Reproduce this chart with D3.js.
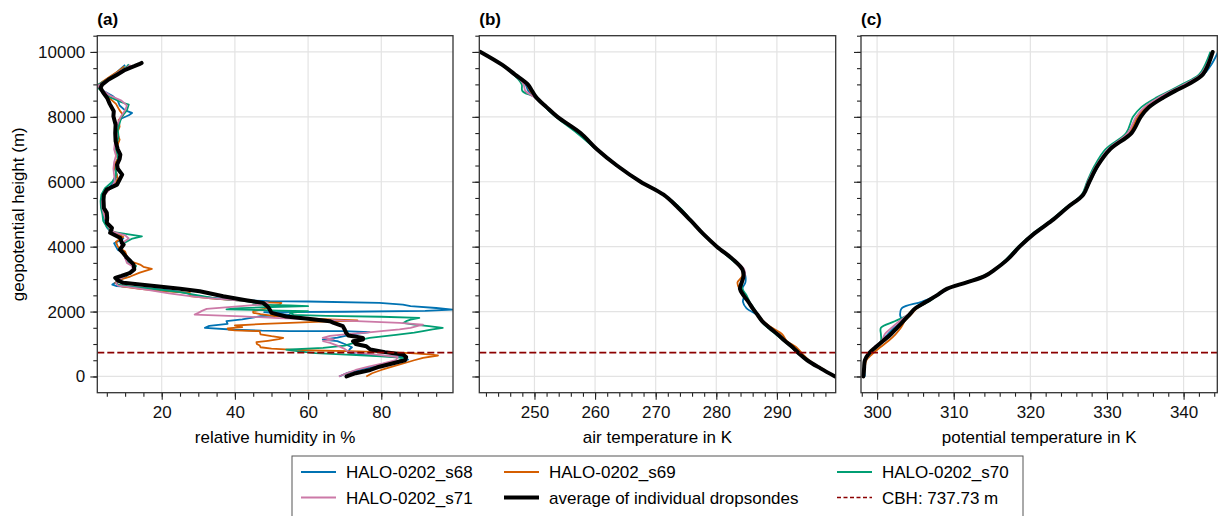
<!DOCTYPE html>
<html>
<head>
<script src="https://d3js.org/d3.v7.min.js"></script>
<style>
  body { margin: 0; background: #fff; }
  svg { font-family: "Liberation Sans", Arial, Helvetica, sans-serif; }
  .grid line { stroke: #e3e3e3; stroke-width: 1.2; }
  .axis text { font-size: 17px; fill: #111; }
  .axis line { stroke: #222; stroke-width: 1.1; }
  .axis path { display: none; }
</style>
</head>
<body>
<svg width="1220" height="516"></svg>
<script>
// ---- data ----
var sondeNames = ["HALO-0202_s68", "HALO-0202_s69", "HALO-0202_s70", "HALO-0202_s71"];
var meanName = "average of individual dropsondes";
var cbh = 737.73;

// relative humidity profiles, [height m, RH %]
var rhS68 = [[0,68.5],[100,70.5],[200,74],[317,78.6],[420,83],[522,87.3],[600,86],[640,80],[680,73],[740,71],[830,71.3],[900,72],[1000,70],[1087,68],[1138,64],[1200,68],[1300,72],[1364,76.8],[1395,70],[1400,55],[1410,47.3],[1440,40],[1498,31.8],[1560,33],[1620,38],[1703,37.7],[1760,42],[1800,44],[1857,47],[1900,55],[1957,50],[1985,48],[1995,70],[2020,92],[2062,99.5],[2110,95],[2170,88],[2216,85.9],[2268,79.5],[2310,60],[2319,49.5],[2360,40],[2420,34],[2494,28.6],[2576,26.8],[2650,22],[2730,15],[2781,7.7],[2830,6.5],[2900,7.5],[3000,9],[3100,10.5],[3200,11],[3300,12],[3400,12.5],[3500,11],[3650,10],[3800,10],[3900,8],[4100,7],[4250,9.5],[4350,8.5],[4450,6],[4600,5],[4800,4.5],[5000,4],[5200,3.8],[5400,3.6],[5600,4.2],[5800,5.5],[6000,7],[6200,7.8],[6400,7.2],[6600,7.5],[6800,8.5],[7000,8],[7200,7.6],[7400,8],[7600,7.5],[7800,8],[7950,9],[8050,11],[8120,11.9],[8200,10],[8350,8.5],[8500,8],[8650,6.5],[8800,4],[8950,2.5],[9050,3.5],[9200,5.5],[9350,7.5],[9500,9],[9600,10]];
var rhS69 = [[0,75.9],[100,77.5],[200,80],[300,83],[400,86],[500,89],[575,91.4],[646,95.5],[680,93],[720,88],[760,78],[780,71],[800,62],[830,55],[860,50],[900,47],[953,46.8],[1000,46],[1056,45.9],[1100,49],[1150,52],[1191,53.2],[1240,50],[1300,47],[1345,46.9],[1395,46.8],[1420,40],[1447,38.2],[1480,38],[1520,42],[1570,40],[1620,48],[1680,62],[1724,73.5],[1760,66],[1800,58],[1859,50.9],[1920,47],[1962,45],[2011,45],[2080,48],[2150,50],[2217,52.3],[2268,52.7],[2290,46],[2319,44],[2400,34],[2473,27.7],[2576,27.7],[2627,20.4],[2700,14],[2780,9],[2886,7.3],[2987,8.6],[3080,11.4],[3200,14],[3317,17.3],[3380,15],[3449,14.1],[3550,11.5],[3700,10.5],[3850,10],[4000,8],[4150,7.5],[4300,9.5],[4400,8],[4500,5.8],[4700,5],[4900,4.5],[5100,4.2],[5300,4],[5500,4],[5700,5],[5900,7],[6100,8],[6300,7.5],[6500,7],[6700,8],[6900,7.5],[7100,7.8],[7300,8.5],[7500,7.8],[7700,8.5],[7900,8.2],[8050,9.5],[8200,8.5],[8400,7.5],[8600,5.5],[8800,3.5],[8950,2.3],[9100,4],[9250,6],[9400,8],[9550,9.8]];
var rhS70 = [[0,71],[100,73],[200,76.5],[300,79],[400,82],[500,85],[573,86],[620,80],[676,70.4],[720,62],[780,57],[830,54],[882,64.1],[950,70],[1050,73],[1120,74],[1190,76.8],[1280,84],[1350,89],[1395,91.4],[1450,94],[1498,96.8],[1550,93],[1600,89],[1650,86],[1703,86.8],[1750,88],[1806,90.4],[1840,80],[1870,65],[1900,56],[1960,55],[2011,60],[2030,52],[2050,45],[2070,37.7],[2100,40],[2140,50],[2165,60],[2190,55],[2216,45],[2268,46],[2320,43],[2400,35],[2500,30],[2600,25],[2680,19],[2760,12],[2830,8],[2900,7.6],[3000,8.5],[3100,10],[3200,11.5],[3300,12.5],[3400,13],[3500,11],[3650,10.5],[3800,9.5],[3950,8.5],[4100,9.5],[4250,12],[4320,14.6],[4380,11],[4450,7],[4600,5],[4800,4],[5000,3.8],[5200,3.4],[5400,3.3],[5600,3.5],[5800,4.5],[6000,6.5],[6200,7.5],[6400,7.5],[6600,8],[6800,8],[7000,7.5],[7200,7.8],[7400,8.2],[7600,8],[7800,8.5],[8000,9],[8200,10.5],[8377,11],[8450,9],[8600,6],[8800,3.5],[8950,2],[9100,4.5],[9250,6.5],[9400,8.5],[9550,10.5],[9620,11]];
var rhS71 = [[0,68.4],[100,70.5],[200,73],[300,76.5],[400,80.5],[500,84],[600,84.5],[680,78],[760,71],[850,70],[950,68],[1036,66],[1087,64.1],[1140,67],[1190,64],[1250,66],[1300,70],[1350,76],[1400,80],[1450,85],[1500,88],[1560,90],[1600,91.4],[1650,85],[1700,75],[1750,63],[1800,52],[1850,42],[1908,29],[1960,30],[2020,31],[2083,32.3],[2150,40],[2216,47],[2268,49],[2350,40],[2420,32],[2473,27.7],[2560,22],[2650,17],[2740,12],[2800,8],[2880,7.5],[3000,8.5],[3100,10],[3200,11],[3300,12],[3400,12],[3500,10.5],[3650,10],[3800,9.5],[3950,8.8],[4100,9],[4250,11],[4350,10],[4450,7],[4600,5.5],[4800,4.8],[5000,4.2],[5200,3.8],[5400,3.7],[5600,4.5],[5800,6],[6000,7.2],[6200,7],[6400,6.8],[6600,7],[6800,7.5],[7000,7],[7200,7.2],[7400,7.8],[7600,7.4],[7800,8],[8000,8.8],[8200,10],[8350,10.5],[8500,9],[8650,6],[8800,4],[8950,2.5],[9100,4.5],[9250,6.5],[9400,8.5],[9520,10.5],[9600,11.5]];
var rhMean = [[0,70.5],[100,73],[200,77],[300,79.5],[400,83],[500,86.5],[600,86.8],[680,85.9],[750,81],[830,77],[930,75.9],[1000,73],[1087,72.3],[1140,75],[1190,75],[1260,71],[1344,70.4],[1450,70],[1550,69.5],[1650,67],[1703,65.9],[1780,60],[1850,54],[1960,50],[2063,49.5],[2150,49],[2268,47.7],[2350,43],[2473,36.8],[2627,30.4],[2700,25],[2781,18.6],[2833,14],[2886,9.5],[2960,8],[3040,7.3],[3100,9],[3194,11.4],[3300,12.5],[3449,12.3],[3550,11.5],[3656,10.5],[3800,9.5],[3911,8.6],[4063,9.6],[4118,9.1],[4268,8.7],[4426,5.9],[4577,6.4],[4734,5.0],[4885,5.1],[5041,5.0],[5193,4.2],[5451,4.1],[5604,4.2],[5759,5.0],[5912,7.8],[6066,8.5],[6220,9.2],[6400,8],[6528,7.8],[6700,8.5],[6836,8.7],[7000,8],[7247,7.4],[7500,7.3],[7760,7.4],[8017,6.8],[8171,6.9],[8400,5.8],[8582,5.1],[8750,4],[8890,3.3],[8993,3.7],[9150,5.5],[9300,7.8],[9450,10],[9560,12.5],[9640,14.2],[9660,14.5]];

// temperature profiles on a shared height grid
var heightsT = [0,250,500,700,900,1100,1300,1500,1700,1900,2100,2300,2500,2700,2900,3100,3300,3600,4000,4400,4800,5200,5600,6000,6500,7000,7500,8000,8300,8600,8800,9000,9300,9600,10000];
var taS68  = [299.5,297.1,295.0,293.5,292.4,291.2,290.0,288.7,287.5,286.7,285.0,284.4,284.6,284.3,284.8,284.8,284.4,282.9,280.0,277.7,275.7,273.6,271.2,267.4,263.5,260.2,257.4,253.6,251.8,250.1,249.0,248.5,246.6,244.6,241.0];
var taS69  = [299.6,297.4,295.3,294.2,293.2,291.6,290.9,289.2,287.8,286.9,286.1,285.4,284.6,283.8,283.5,284.3,284.2,282.8,280.2,277.9,275.8,273.7,271.4,267.6,263.7,260.4,257.7,253.9,252.1,250.2,249.3,248.7,246.8,244.7,241.1];
var taS70  = [299.6,297.2,294.9,293.6,292.4,291.1,289.8,288.5,287.4,286.8,286.2,285.5,285.0,284.3,284.3,284.4,284.3,282.5,280.0,277.7,275.9,274.0,271.4,267.4,263.5,260.2,257.0,253.5,251.8,250.1,248.0,247.9,246.6,244.6,241.0];
var taS71  = [299.6,297.2,295.0,293.6,292.5,291.2,290.0,288.7,287.6,286.8,286.0,285.3,284.5,284.0,284.3,284.7,284.6,282.9,280.1,277.9,275.9,273.8,271.4,267.6,263.7,260.4,257.6,253.7,251.9,250.0,248.5,248.2,246.8,244.7,241.1];
var taMean = [299.6,297.2,295.0,293.7,292.6,291.3,290.1,288.8,287.6,286.8,286.0,285.3,284.5,283.9,284.2,284.5,284.3,282.8,280.1,277.8,275.8,273.7,271.3,267.5,263.6,260.3,257.6,253.8,252.0,250.3,249.6,248.9,246.8,244.7,241.1];

var thS68  = [298.4,298.4,298.5,299.0,299.9,300.6,301.4,302.2,303.2,303.0,303.2,305.8,307.9,309.2,311.6,314.0,315.4,317.1,318.7,320.6,322.8,324.8,326.9,327.8,328.9,330.3,333.0,334.2,335.3,337.2,338.7,340.5,342.6,343.6,344.5];
var thS69  = [298.3,298.4,298.6,299.4,300.4,301.5,302.4,303.1,303.6,304.4,305.2,306.6,307.9,309.0,311.6,314.0,315.3,316.9,318.5,320.4,322.7,324.7,326.8,327.6,328.6,330.2,332.9,334.0,335.1,337.0,338.5,340.3,342.3,343.0,343.8];
var thS70  = [298.2,298.3,298.5,299.1,299.8,300.5,300.5,300.5,302.3,304.1,305.1,306.7,307.9,309.2,311.5,313.9,315.3,316.8,318.4,320.3,322.6,324.6,326.7,327.4,328.4,329.8,332.5,333.4,334.5,336.5,338.2,339.8,342.0,342.8,343.5];
var thS71  = [298.2,298.3,298.5,299.1,299.6,300.6,301.0,301.9,302.9,304.0,305.0,306.5,307.8,309.1,311.6,314.0,315.3,316.9,318.5,320.4,322.7,324.7,326.8,327.5,328.6,330.1,332.7,333.8,334.9,336.8,338.4,340.1,342.2,343.0,343.7];
var thMean = [298.2,298.3,298.4,298.9,299.8,300.8,301.8,302.6,303.4,304.2,305.0,306.4,307.8,309.1,311.7,314.1,315.4,317.0,318.6,320.5,322.8,324.8,326.9,327.7,328.8,330.4,333.2,334.4,335.5,337.4,338.9,340.6,342.5,343.2,343.8];

var yMajor = [0, 2000, 4000, 6000, 8000, 10000];

// ---- styles ----
var sondeColors = ["#0072B2", "#D55E00", "#009E73", "#CC79A7"];
var cbhColor = "#8b0000";

function zip(hs, vs) { return hs.map(function(h, i) { return [h, vs[i]]; }); }

var panels = [
  { abc: "(a)", label: "relative humidity in %", left: 97.3, right: 453, domain: [2.4, 99.6],
    major: [20, 40, 60, 80], minor: d3.range(5, 100, 5), curve: d3.curveLinear,
    sondes: [rhS68, rhS69, rhS70, rhS71], mean: rhMean, yLabels: true },
  { abc: "(b)", label: "air temperature in K", left: 479.3, right: 835.7, domain: [240.9, 299.7],
    major: [250, 260, 270, 280, 290], minor: d3.range(242, 300, 2), curve: d3.curveCatmullRom,
    sondes: [taS68, taS69, taS70, taS71].map(function(v) { return zip(heightsT, v); }),
    mean: zip(heightsT, taMean), yLabels: false },
  { abc: "(c)", label: "potential temperature in K", left: 861, right: 1217.3, domain: [297.9, 344.4],
    major: [300, 310, 320, 330, 340], minor: d3.range(298, 345, 2), curve: d3.curveCatmullRom,
    sondes: [thS68, thS69, thS70, thS71].map(function(v) { return zip(heightsT, v); }),
    mean: zip(heightsT, thMean), yLabels: false }
];

var svg = d3.select("svg");
var top_ = 35.7, bottom_ = 392.7;
var y = d3.scaleLinear().domain([-500, 10500]).range([bottom_, top_]);

panels.forEach(function(p, pi) {
  var x = d3.scaleLinear().domain(p.domain).range([p.left, p.right]);
  var g = svg.append("g");

  svg.append("clipPath").attr("id", "clip" + pi)
    .append("rect").attr("x", p.left).attr("y", top_)
    .attr("width", p.right - p.left).attr("height", bottom_ - top_);

  // grid
  var grid = g.append("g").attr("class", "grid");
  grid.selectAll(".gx").data(p.major).enter().append("line")
    .attr("x1", x).attr("x2", x).attr("y1", top_).attr("y2", bottom_);
  grid.selectAll(".gy").data(yMajor).enter().append("line")
    .attr("x1", p.left).attr("x2", p.right).attr("y1", y).attr("y2", y);

  var line = d3.line().curve(p.curve)
    .x(function(d) { return x(d[1]); }).y(function(d) { return y(d[0]); });
  var plot = g.append("g").attr("clip-path", "url(#clip" + pi + ")");

  plot.selectAll(".sonde").data(p.sondes).enter().append("path")
    .attr("d", line)
    .attr("fill", "none")
    .attr("stroke", function(d, i) { return sondeColors[i]; })
    .attr("stroke-width", 1.8)
    .attr("stroke-linejoin", "round");

  plot.append("path").attr("d", line(p.mean))
    .attr("fill", "none").attr("stroke", "#000")
    .attr("stroke-width", 4).attr("stroke-linejoin", "round").attr("stroke-linecap", "round");

  plot.append("line")
    .attr("x1", p.left).attr("x2", p.right)
    .attr("y1", y(cbh)).attr("y2", y(cbh))
    .attr("stroke", cbhColor).attr("stroke-width", 1.7).attr("stroke-dasharray", "7,3");

  // axes
  g.append("g").attr("class", "axis").attr("transform", "translate(0," + bottom_ + ")")
    .call(d3.axisBottom(x).tickValues(p.minor).tickSize(4).tickFormat(""));
  g.append("g").attr("class", "axis").attr("transform", "translate(0," + bottom_ + ")")
    .call(d3.axisBottom(x).tickValues(p.major).tickSize(7).tickPadding(6).tickFormat(d3.format("d")));
  g.append("g").attr("class", "axis").attr("transform", "translate(" + p.left + ",0)")
    .call(d3.axisLeft(y).tickValues(d3.range(0, 10501, 500)).tickSize(4).tickFormat(""));
  g.append("g").attr("class", "axis").attr("transform", "translate(" + p.left + ",0)")
    .call(d3.axisLeft(y).tickValues(yMajor).tickSize(7).tickPadding(5)
      .tickFormat(p.yLabels ? d3.format("d") : ""));

  // frame
  g.append("rect").attr("x", p.left).attr("y", top_)
    .attr("width", p.right - p.left).attr("height", bottom_ - top_)
    .attr("fill", "none").attr("stroke", "#333").attr("stroke-width", 1.3);

  g.append("text").attr("x", p.left).attr("y", 25)
    .attr("font-size", "17px").attr("font-weight", "bold").text(p.abc);

  g.append("text").attr("x", (p.left + p.right) / 2).attr("y", 443)
    .attr("text-anchor", "middle").attr("font-size", "17px").text(p.label);
});

svg.append("text")
  .attr("transform", "translate(24," + ((top_ + bottom_) / 2) + ") rotate(-90)")
  .attr("text-anchor", "middle").attr("font-size", "17px")
  .text("geopotential height (m)");

// legend
var lg = svg.append("g");
lg.append("rect").attr("x", 292).attr("y", 456).attr("width", 731).attr("height", 80)
  .attr("fill", "#fff").attr("stroke", "#555").attr("stroke-width", 1);

var legendItems = [
  { name: sondeNames[0], color: sondeColors[0], w: 1.8 },
  { name: sondeNames[1], color: sondeColors[1], w: 1.8 },
  { name: sondeNames[2], color: sondeColors[2], w: 1.8 },
  { name: sondeNames[3], color: sondeColors[3], w: 1.8 },
  { name: meanName, color: "#000", w: 4 },
  { name: "CBH: " + cbh + " m", color: cbhColor, w: 1.7, dash: "4,2.5" }
];
var colX = [301, 504, 837], rowY = [472, 497.5];
legendItems.forEach(function(it, i) {
  var cx = colX[i % 3], cy = rowY[Math.floor(i / 3)];
  lg.append("line").attr("x1", cx).attr("x2", cx + 35).attr("y1", cy).attr("y2", cy)
    .attr("stroke", it.color).attr("stroke-width", it.w)
    .attr("stroke-dasharray", it.dash || null);
  lg.append("text").attr("x", cx + 45).attr("y", cy + 6).attr("font-size", "17px").text(it.name);
});
</script>
</body>
</html>
